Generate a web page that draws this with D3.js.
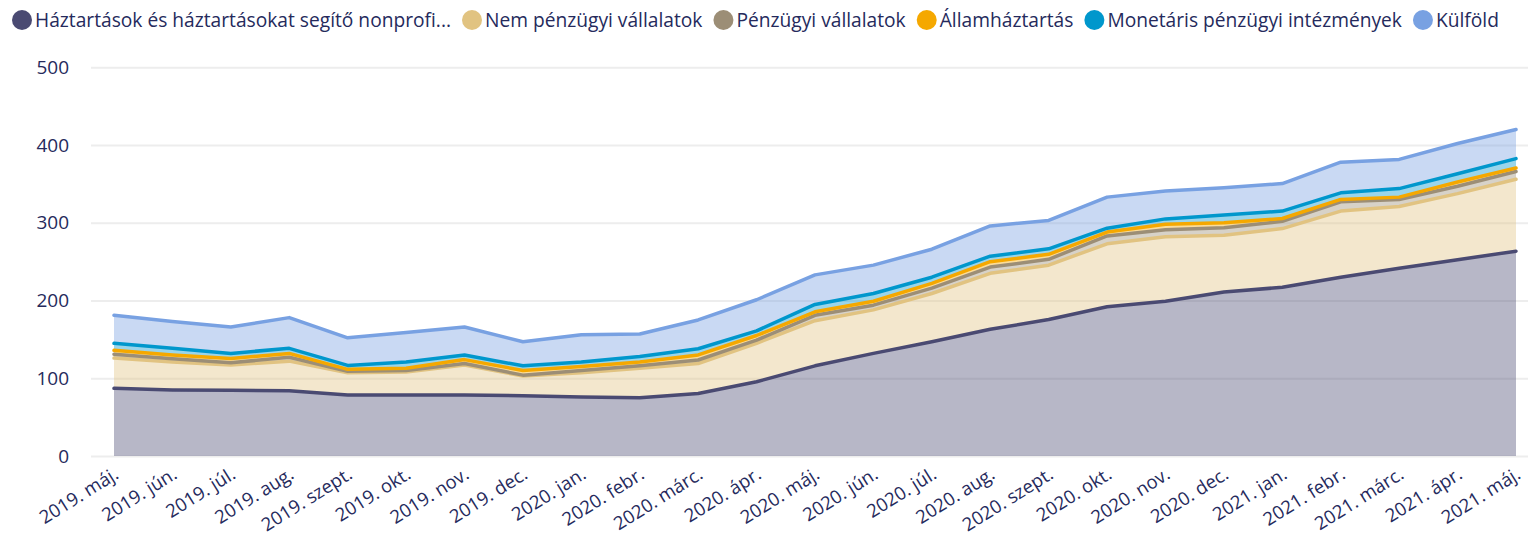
<!DOCTYPE html>
<html lang="hu">
<head>
<meta charset="utf-8">
<script src="https://cdn.jsdelivr.net/npm/d3@7"></script>
<style>
  html, body { margin: 0; padding: 0; background: #fff; }
  svg { display: block; font-family: "Open Sans", Lato, sans-serif; }
</style>
</head>
<body>
<svg id="chart" width="1528" height="535"></svg>
<script>
// Hónapok (x tengely)
const months = [
  "2019. máj.", "2019. jún.", "2019. júl.", "2019. aug.", "2019. szept.", "2019. okt.",
  "2019. nov.", "2019. dec.", "2020. jan.", "2020. febr.", "2020. márc.", "2020. ápr.",
  "2020. máj.", "2020. jún.", "2020. júl.", "2020. aug.", "2020. szept.", "2020. okt.",
  "2020. nov.", "2020. dec.", "2021. jan.", "2021. febr.", "2021. márc.", "2021. ápr.",
  "2021. máj."
];

// Szektoronkénti állományok (egymásra halmozva)
const haztartasok = [87, 85, 84.5, 84, 78.5, 78.5, 78.5, 77.5, 76, 75, 80.5, 95.5,
  116, 132, 147, 163, 175.5, 192, 199, 211, 217, 230, 241.5, 252.5, 263.5];
const nemPenzugyi = [39, 36, 32.5, 38, 28.5, 29.5, 38.5, 25.5, 31, 38, 38.5, 49.5,
  58, 56, 62, 72, 70, 81, 83, 73, 75.5, 85, 79.5, 85, 92.5];
const penzugyi = [5, 4, 3, 5, 2, 2, 2, 1, 3, 3, 4.5, 4,
  7, 6, 7, 8, 7.5, 10, 9, 9.5, 9.5, 12, 9, 9.5, 10];
const allam = [5, 5, 5.5, 5, 2.5, 3, 5, 6, 5, 5, 6.5, 6,
  4.5, 5, 6, 7, 6.5, 5, 7, 6.5, 3.5, 3, 3, 5.5, 4.5];
const monetaris = [9, 8.5, 6.5, 6.5, 5, 8, 6, 6, 6, 7, 8, 6,
  9.5, 10, 8, 7, 7, 5, 7, 10, 9.5, 8.5, 11, 10.5, 12];
const kulfold = [36, 34.5, 34, 39.5, 35.5, 38, 36, 31, 35, 29, 37, 40,
  38, 36.5, 36, 39, 36.5, 40, 36, 35, 35.5, 39.5, 37.5, 39, 37.5];

const seriesNames = [
  "Háztartások és háztartásokat segítő nonprofi...",
  "Nem pénzügyi vállalatok",
  "Pénzügyi vállalatok",
  "Államháztartás",
  "Monetáris pénzügyi intézmények",
  "Külföld"
];
const seriesColors = ["#4a4a72", "#e1c381", "#9c8e76", "#f5a800", "#0097cc", "#78a1e2"];
const yTicks = [0, 100, 200, 300, 400, 500];

const seriesValues = [haztartasok, nemPenzugyi, penzugyi, allam, monetaris, kulfold];
const keys = d3.range(seriesNames.length);
const rows = months.map((m, i) => {
  const r = { month: m };
  keys.forEach(k => { r[k] = seriesValues[k][i]; });
  return r;
});
const stacked = d3.stack().keys(keys)(rows);

const svg = d3.select("#chart");
const textColor = "#252a5c";
const fontFamily = "'Open Sans', Lato, sans-serif";

const plotLeft = 91, plotRight = 1528;
const x = d3.scalePoint().domain(months).range([114, 1516]);
const y = d3.scaleLinear().domain([0, 500]).range([456, 67.3]);

// Rácsvonalak és y tengely
const yAxis = svg.append("g")
  .attr("transform", `translate(${plotLeft},0)`)
  .call(d3.axisLeft(y).tickValues(yTicks).tickSize(-(plotRight - plotLeft)).tickPadding(22));
yAxis.select(".domain").remove();
yAxis.selectAll(".tick line").attr("stroke", "#ededed").attr("stroke-width", 2);
yAxis.selectAll(".tick text")
  .attr("fill", textColor).style("font-size", "19px").attr("font-family", fontFamily);

// Halmozott területek
const area = d3.area()
  .x(d => x(d.data.month))
  .y0(d => y(d[0]))
  .y1(d => y(d[1]));
svg.append("g").selectAll("path")
  .data(stacked)
  .join("path")
  .attr("d", area)
  .attr("fill", (d, i) => seriesColors[i])
  .attr("fill-opacity", 0.4);

// Felső határvonalak
const line = d3.line()
  .x(d => x(d.data.month))
  .y(d => y(d[1]));
svg.append("g").selectAll("path")
  .data(stacked)
  .join("path")
  .attr("d", line)
  .attr("fill", "none")
  .attr("stroke", (d, i) => seriesColors[i])
  .attr("stroke-width", 3.5)
  .attr("stroke-linejoin", "round")
  .attr("stroke-linecap", "round");

// x tengely ferde feliratokkal
const xAxis = svg.append("g")
  .attr("transform", "translate(0,456)")
  .call(d3.axisBottom(x).tickSize(0));
xAxis.select(".domain").remove();
xAxis.selectAll(".tick text")
  .attr("fill", textColor)
  .style("font-size", "18.5px")
  .attr("font-family", fontFamily)
  .attr("text-anchor", "end")
  .attr("x", 0).attr("y", 0).attr("dy", "0.35em")
  .attr("transform", "translate(2,16) rotate(-32)");

// Jelmagyarázat
const legend = svg.append("g").attr("transform", "translate(0,20)");
let lx = 12;
seriesNames.forEach((name, i) => {
  const g = legend.append("g").attr("transform", `translate(${lx},0)`);
  g.append("circle").attr("cx", 10).attr("cy", 0).attr("r", 10).attr("fill", seriesColors[i]);
  const t = g.append("text")
    .attr("x", 23).attr("y", 0).attr("dy", "0.35em")
    .attr("fill", textColor)
    .attr("font-family", fontFamily)
    .style("font-size", "19.2px")
    .text(name);
  lx += 23 + t.node().getComputedTextLength() + 11;
});
</script>
</body>
</html>
